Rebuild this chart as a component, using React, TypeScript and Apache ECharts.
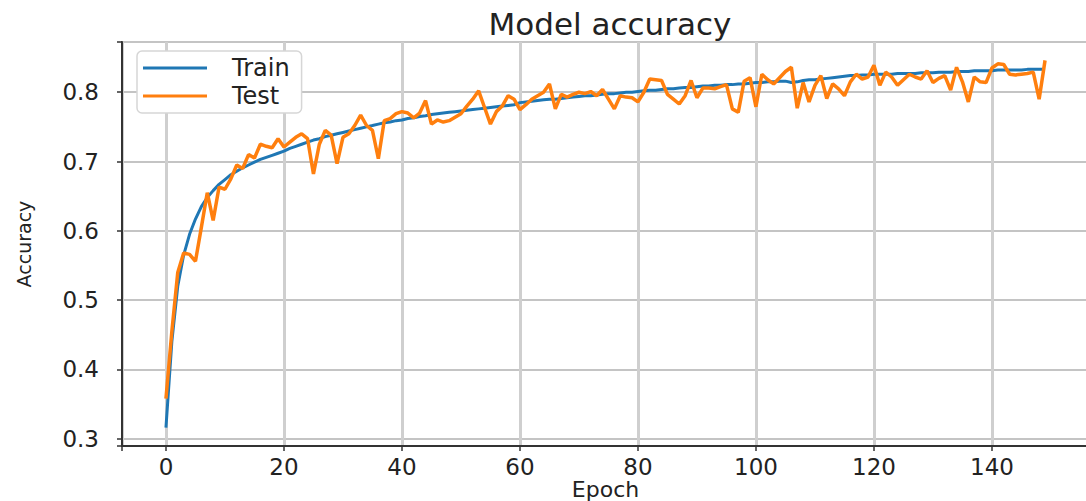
import React, { useEffect, useRef } from "react";
import * as echarts from "echarts";

const titleText = "Model accuracy";
const xName = "Epoch";
const yName = "Accuracy";
const seriesNames = ["Train", "Test"];

const trainAcc = [
  0.316, 0.44, 0.52, 0.565, 0.595, 0.617, 0.635, 0.648, 0.658, 0.667,
  0.674, 0.681, 0.686, 0.691, 0.695, 0.699, 0.703, 0.706, 0.709, 0.712,
  0.715, 0.719, 0.722, 0.725, 0.728, 0.731, 0.733, 0.736, 0.738, 0.74,
  0.742, 0.744, 0.746, 0.748, 0.75, 0.752, 0.754, 0.756, 0.757, 0.759,
  0.76, 0.762, 0.763, 0.765, 0.766, 0.768, 0.769, 0.77, 0.771, 0.772,
  0.773, 0.774, 0.775, 0.776, 0.777, 0.778, 0.779, 0.78, 0.781, 0.782,
  0.785, 0.786, 0.787, 0.788, 0.789, 0.79, 0.79, 0.791, 0.792, 0.793,
  0.794, 0.795, 0.795, 0.796, 0.797, 0.798, 0.798, 0.799, 0.8, 0.8,
  0.801, 0.802, 0.803, 0.803, 0.804, 0.805, 0.805, 0.806, 0.807, 0.807,
  0.808, 0.809, 0.809, 0.81, 0.81, 0.811, 0.811, 0.812, 0.812, 0.813,
  0.814, 0.814, 0.815, 0.815, 0.816, 0.816, 0.814, 0.815, 0.817, 0.818,
  0.818, 0.819, 0.82, 0.821, 0.822, 0.823, 0.824, 0.824, 0.825, 0.825,
  0.826, 0.826, 0.826, 0.826, 0.827, 0.827, 0.827, 0.827, 0.828, 0.828,
  0.828, 0.829, 0.829, 0.829, 0.83, 0.83, 0.83, 0.831, 0.831, 0.831,
  0.831, 0.832, 0.832, 0.832, 0.832, 0.832, 0.833, 0.833, 0.833, 0.833,
];

const testAcc = [
  0.358, 0.455, 0.54, 0.568, 0.566, 0.556, 0.605, 0.655, 0.615, 0.663,
  0.66, 0.675, 0.695, 0.69, 0.71, 0.705, 0.725, 0.722, 0.72, 0.733,
  0.721, 0.728, 0.735, 0.74, 0.733, 0.682, 0.725, 0.745, 0.738, 0.697,
  0.735, 0.74, 0.752, 0.767, 0.752, 0.745, 0.704, 0.759, 0.762, 0.769,
  0.772, 0.77, 0.763, 0.77, 0.788, 0.754, 0.76, 0.757, 0.759, 0.764,
  0.769, 0.78, 0.79, 0.802, 0.778, 0.754, 0.772, 0.78, 0.795, 0.79,
  0.775, 0.782, 0.79, 0.795, 0.8, 0.812, 0.776, 0.797, 0.793, 0.797,
  0.8, 0.798, 0.801, 0.795, 0.804, 0.79, 0.776, 0.795, 0.793, 0.792,
  0.786, 0.8, 0.819, 0.818, 0.817, 0.797, 0.79, 0.783, 0.795, 0.817,
  0.792, 0.806, 0.806, 0.805, 0.808, 0.811, 0.776, 0.771, 0.816, 0.821,
  0.779, 0.826, 0.818, 0.812, 0.821, 0.83, 0.836, 0.777, 0.814, 0.786,
  0.81, 0.824, 0.791, 0.812, 0.805, 0.795, 0.815, 0.826, 0.819, 0.822,
  0.839, 0.81, 0.829, 0.822, 0.81, 0.818, 0.826, 0.822, 0.819, 0.831,
  0.814, 0.82, 0.824, 0.803, 0.836, 0.815, 0.786, 0.822, 0.815, 0.814,
  0.835, 0.841, 0.84, 0.826, 0.825, 0.826, 0.827, 0.829, 0.79, 0.846,
];

const xTickStep = 20;
const yTickStep = 0.1;

const FONT = "DejaVu Sans";

export default function App() {
  const ref = useRef<HTMLDivElement>(null);

  useEffect(() => {
    if (!ref.current) return;
    const chart = echarts.init(ref.current, undefined, { renderer: "svg" });

    const n = trainAcc.length;
    const allVals = trainAcc.concat(testAcc);
    const dMin = Math.min(...allVals);
    const dMax = Math.max(...allVals);
    const xPad = (n - 1) * 0.05;
    const yPad = (dMax - dMin) * 0.05;

    const trainData = trainAcc.map((v, i) => [i, v]);
    const testData = testAcc.map((v, i) => [i, v]);

    const isMultiple = (v: number, step: number) =>
      Math.abs(v / step - Math.round(v / step)) < 1e-6;

    chart.setOption({
      animation: false,
      backgroundColor: "#ffffff",
      title: {
        text: titleText,
        left: 605,
        textAlign: "center",
        top: 3,
        textStyle: {
          fontFamily: FONT,
          fontSize: 31,
          fontWeight: "normal",
          color: "#222",
        },
      },
      legend: {
        data: seriesNames,
        orient: "vertical",
        left: 137,
        top: 51,
        icon: "rect",
        itemWidth: 64,
        itemHeight: 3,
        itemGap: 4,
        padding: [5, 12, 5, 6],
        backgroundColor: "#ffffff",
        borderColor: "#d6d6d6",
        borderWidth: 1.5,
        borderRadius: 5,
        textStyle: {
          fontFamily: FONT,
          fontSize: 24,
          color: "#222",
          padding: [0, 0, 0, 20],
        },
      },
      grid: {
        left: 122,
        top: 42,
        right: -3,
        bottom: 55,
        containLabel: false,
        outerBoundsMode: "none",
        show: true,
        borderColor: "#333",
        borderWidth: 2,
      },
      xAxis: {
        type: "value",
        min: -xPad,
        max: n - 1 + xPad,
        minInterval: xTickStep,
        maxInterval: xTickStep,
        name: xName,
        nameLocation: "middle",
        nameGap: 32,
        nameMoveOverlap: false,
        nameTextStyle: { fontFamily: FONT, fontSize: 22, color: "#222" },
        axisLine: { show: true, onZero: false, lineStyle: { color: "#333", width: 2 } },
        axisTick: { show: true, length: 5, lineStyle: { color: "#333", width: 1.5 } },
        axisLabel: {
          fontFamily: FONT,
          fontSize: 23,
          color: "#222",
          margin: 9,
          formatter: (v: number) => (isMultiple(v, xTickStep) ? String(Math.round(v)) : ""),
        },
        splitLine: { show: true, lineStyle: { color: "#cfcfcf", width: 3 } },
      },
      yAxis: {
        type: "value",
        min: dMin - yPad,
        max: dMax + yPad,
        minInterval: yTickStep,
        maxInterval: yTickStep,
        name: yName,
        nameLocation: "middle",
        nameRotate: 90,
        nameGap: 89,
        nameMoveOverlap: false,
        nameTextStyle: { fontFamily: FONT, fontSize: 19, color: "#222" },
        axisLine: { show: true, onZero: false, lineStyle: { color: "#333", width: 2 } },
        axisTick: { show: true, length: 5, lineStyle: { color: "#333", width: 1.5 } },
        axisLabel: {
          fontFamily: FONT,
          fontSize: 23,
          color: "#222",
          margin: 23,
          formatter: (v: number) => (isMultiple(v, yTickStep) ? v.toFixed(1) : ""),
        },
        splitLine: { show: true, lineStyle: { color: "#c4c4c4", width: 2 } },
      },
      series: [
        {
          name: seriesNames[0],
          type: "line",
          data: trainData,
          symbol: "none",
          lineStyle: { color: "#1f77b4", width: 3 },
          itemStyle: { color: "#1f77b4" },
          z: 2,
        },
        {
          name: seriesNames[1],
          type: "line",
          data: testData,
          symbol: "none",
          lineStyle: { color: "#ff7f0e", width: 3.5 },
          itemStyle: { color: "#ff7f0e" },
          z: 3,
        },
      ],
    });

    return () => chart.dispose();
  }, []);

  return (
    <div
      ref={ref}
      style={{ position: "fixed", left: 0, top: 0, width: 1086, height: 501 }}
    />
  );
}
